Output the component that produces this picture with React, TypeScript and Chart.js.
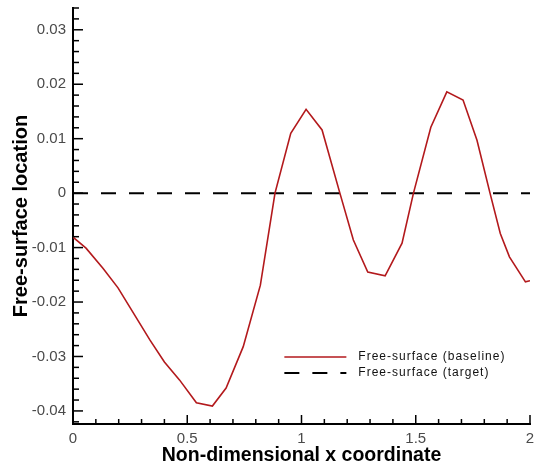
import React, { useEffect, useRef } from "react";
import { Chart, registerables } from "chart.js";

Chart.register(...registerables);

const baselineX = [0, 0.057, 0.131, 0.197, 0.27, 0.337, 0.4, 0.466, 0.54, 0.61, 0.67, 0.745, 0.82, 0.884, 0.953, 1.02, 1.09, 1.168, 1.227, 1.29, 1.366, 1.44, 1.49, 1.566, 1.636, 1.707, 1.768, 1.825, 1.87, 1.91, 1.98, 2.0];
const baselineY = [-0.0081, -0.0101, -0.0138, -0.0174, -0.0224, -0.027, -0.031, -0.0343, -0.0385, -0.0391, -0.0358, -0.0282, -0.0169, 0, 0.011, 0.0154, 0.0116, 0, -0.0086, -0.0145, -0.0152, -0.0092, 0, 0.0121, 0.0186, 0.0171, 0.0097, 0, -0.0074, -0.0117, -0.0163, -0.0161];
const targetX = [0, 2];
const targetY = [0, 0];
const xTickValues = [0, 0.5, 1, 1.5, 2];
const yTickValues = [-0.04, -0.03, -0.02, -0.01, 0, 0.01, 0.02, 0.03];
const seriesLabels = ["Free-surface (baseline)", "Free-surface (target)"];
const xTitle = "Non-dimensional x coordinate";
const yTitle = "Free-surface location";

const FONT = "'Liberation Sans', Arial, Helvetica, sans-serif";

const innerTicks = {
  id: "innerTicks",
  afterDatasetsDraw(chart: any) {
    const { ctx } = chart;
    const xs = chart.scales.x;
    const ys = chart.scales.y;
    ctx.save();
    ctx.strokeStyle = "#000";
    ctx.lineWidth = 1.5;
    for (let i = 0; i <= 20; i++) {
      const v = i * 0.1;
      const px = xs.getPixelForValue(v);
      const major = i % 5 === 0;
      const len = major ? 9 : 5;
      ctx.beginPath();
      ctx.moveTo(px, ys.bottom);
      ctx.lineTo(px, ys.bottom - len);
      ctx.stroke();
    }
    for (let i = -21; i <= 17; i++) {
      const v = i * 0.002;
      if (v < ys.min || v > ys.max) continue;
      const py = ys.getPixelForValue(v);
      const major = i % 5 === 0;
      const len = major ? 10 : 6;
      ctx.beginPath();
      ctx.moveTo(xs.left, py);
      ctx.lineTo(xs.left + len, py);
      ctx.stroke();
    }
    ctx.restore();
  },
};

const innerLegend = {
  id: "innerLegend",
  afterDraw(chart: any) {
    const { ctx } = chart;
    const xs = chart.scales.x;
    const ys = chart.scales.y;
    const x0 = xs.getPixelForValue(0.925);
    const y0 = ys.getPixelForValue(-0.0301);
    ctx.save();
    ctx.font = `12px ${FONT}`;
    (ctx as any).letterSpacing = "1px";
    ctx.textBaseline = "middle";
    ctx.fillStyle = "#111";
    chart.data.datasets.forEach((ds: any, i: number) => {
      const y = y0 + i * 16;
      ctx.beginPath();
      ctx.strokeStyle = ds.borderColor;
      ctx.lineWidth = ds.borderWidth;
      ctx.setLineDash(ds.borderDash || []);
      ctx.moveTo(x0, y);
      ctx.lineTo(x0 + 62, y);
      ctx.stroke();
      ctx.setLineDash([]);
      ctx.fillText(ds.label, x0 + 74, y);
    });
    ctx.restore();
  },
};

export default function App() {
  const ref = useRef<HTMLCanvasElement>(null);
  useEffect(() => {
    if (!ref.current) return;
    Chart.defaults.font.family = FONT;
    const chart = new Chart(ref.current, {
      type: "scatter",
      data: {
        datasets: [
          {
            label: seriesLabels[0],
            data: baselineX.map((x, i) => ({ x, y: baselineY[i] })),
            showLine: true,
            borderColor: "#b3191c",
            borderWidth: 1.6,
            pointRadius: 0,
            tension: 0,
          },
          {
            label: seriesLabels[1],
            data: targetX.map((x, i) => ({ x, y: targetY[i] })),
            showLine: true,
            borderColor: "#000",
            borderWidth: 2,
            borderDash: [15, 13],
            pointRadius: 0,
          },
        ],
      },
      options: {
        responsive: false,
        animation: false,
        layout: { padding: { left: 0, top: 8, right: 5, bottom: 0 } },
        plugins: { legend: { display: false }, tooltip: { enabled: false } },
        scales: {
          x: {
            type: "linear",
            min: 0,
            max: 2,
            grid: { display: false, drawTicks: false },
            border: { display: true, color: "#000", width: 2 },
            afterBuildTicks: (s: any) => {
              s.ticks = xTickValues.map((v) => ({ value: v }));
            },
            afterFit: (s: any) => {
              s.height = 46;
              s.paddingLeft = 0;
              s.paddingRight = 0;
            },
            ticks: {
              padding: 6,
              color: "#4a4a4a",
              font: { size: 15 },
              maxRotation: 0,
              callback: (v: any) => String(Number(Number(v).toFixed(2))),
            },
            title: {
              display: true,
              text: xTitle,
              color: "#000",
              font: { size: 19.5, weight: "bold" },
              padding: { top: 0, bottom: 3 },
            },
          },
          y: {
            type: "linear",
            min: -0.0424,
            max: 0.034,
            grid: { display: false, drawTicks: false },
            border: { display: true, color: "#000", width: 2 },
            afterBuildTicks: (s: any) => {
              s.ticks = yTickValues.map((v) => ({ value: v }));
            },
            afterFit: (s: any) => {
              s.width = 73;
              s.paddingTop = 0;
              s.paddingBottom = 0;
            },
            ticks: {
              padding: 7,
              color: "#4a4a4a",
              font: { size: 15 },
              callback: (v: any) => String(Number(Number(v).toFixed(2))),
            },
            title: {
              display: true,
              text: yTitle,
              color: "#000",
              font: { size: 20, weight: "bold" },
              padding: { top: 9, bottom: 0 },
            },
          },
        },
      },
      plugins: [innerTicks, innerLegend],
    } as any);
    return () => chart.destroy();
  }, []);
  return (
    <div style={{ position: "absolute", left: 0, top: 0, width: 535, height: 470, background: "#fff" }}>
      <canvas ref={ref} width={535} height={470} />
    </div>
  );
}
